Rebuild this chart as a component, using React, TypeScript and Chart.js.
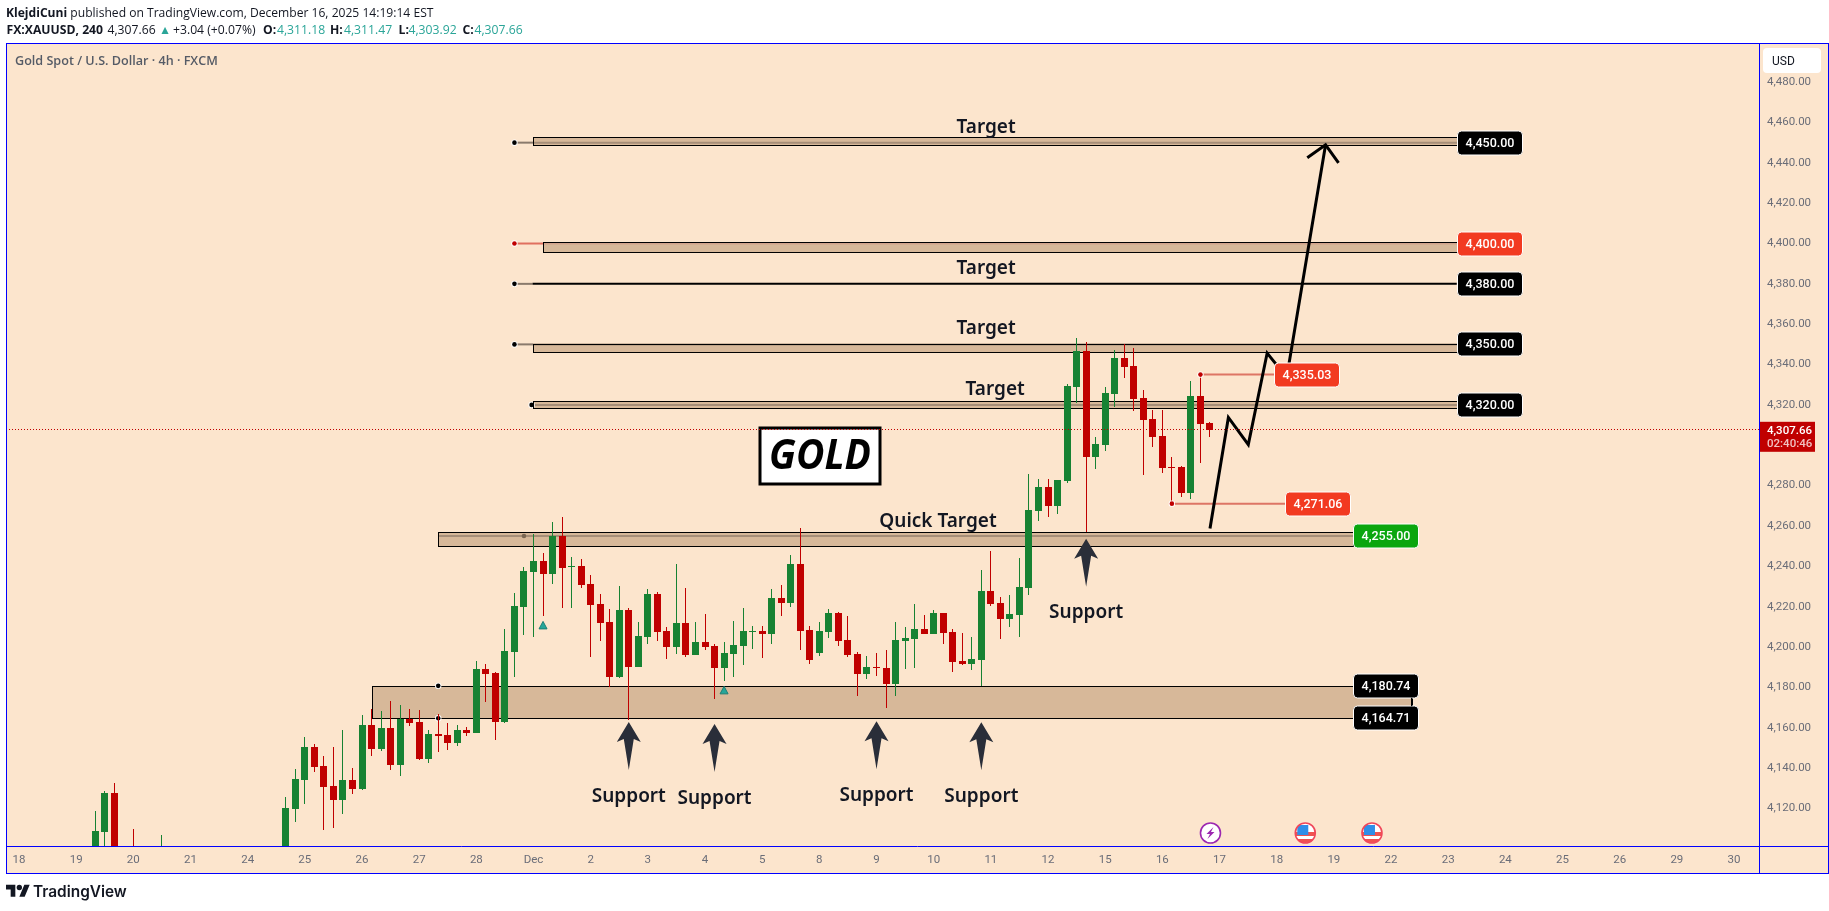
import { Chart } from 'chart.js/auto';
import { useEffect, useRef } from 'react';

const dayLabels = ['18', '19', '20', '21', '24', '25', '26', '27', '28', 'Dec', '2', '3', '4', '5', '8', '9', '10', '11', '12', '15', '16', '17', '18', '19', '22', '23', '24', '25', '26', '29', '30'];
const barsPerDay = 6;
const priceTicks = [4480, 4460, 4440, 4420, 4400, 4380, 4360, 4340, 4320, 4300, 4280, 4260, 4240, 4220, 4200, 4180, 4160, 4140, 4120];

// first candle sits at bar 8, bars hidden under the bottom of the pane are null
const firstBar = 8;
const opens = [
    4095, 4108.2, 4127.5, null, 4098, null, null, 4095, null, null,
    null, null, null, null, null, null, null, null, null, null,
    4095, 4119.6, 4133.9, 4150.3, 4140.9, 4131.0, 4124.1, 4133.9, 4129.5, 4161.2,
    4149.3, 4159.7, 4141.4, 4164.2, 4162.7, 4144.4, 4156.7, 4156.2, 4152.3, 4158.7,
    4157.2, 4189.0, 4187.0, 4162.7, 4197.4, 4219.7, 4237.0, 4242.5, 4236.0, 4254.9,
    4239.5, 4240.0, 4231.1, 4221.2, 4212.2, 4185.0, 4218.2, 4189.9, 4204.8, 4226.1,
    4207.8, 4199.9, 4211.7, 4195.9, 4202.3, 4200.4, 4189.4, 4196.4, 4200.4, 4207.3,
    4207.8, 4206.3, 4224.1, 4221.6, 4241.0, 4208.3, 4196.9, 4207.3, 4216.7, 4203.3,
    4196.4, 4186.5, 4189.9, 4189.4, 4181.5, 4202.8, 4203.8, 4208.8, 4206.3, 4216.7,
    4207.3, 4192.9, 4191.4, 4193.4, 4227.6, 4221.7, 4213.7, 4215.7, 4229.1, 4267.3,
    4279.1, 4269.7, 4282.1, 4328.7, 4346.5, 4294.0, 4300.0, 4325.2, 4343.1, 4339.1,
    4323.2, 4312.8, 4304.4, 4289.1, 4289.1, 4276.2, 4324.2, 4311.18
];
const closes = [
    4108.7, 4127.5, 4095, null, 4095, null, null, 4098, null, null,
    null, null, null, null, null, null, null, null, null, null,
    4120.1, 4134.4, 4150.3, 4140.4, 4130.5, 4124.1, 4133.9, 4129.5, 4161.2, 4149.3,
    4159.7, 4141.4, 4164.2, 4162.2, 4144.4, 4156.7, 4155.7, 4152.3, 4158.7, 4157.2,
    4188.95, 4186.5, 4162.7, 4197.9, 4220.2, 4237.5, 4242.5, 4236.0, 4254.9, 4239.0,
    4240.0, 4230.6, 4220.7, 4211.7, 4185.0, 4218.2, 4189.9, 4205.3, 4226.1, 4207.3,
    4199.9, 4211.7, 4195.9, 4202.3, 4199.9, 4189.4, 4196.9, 4200.8, 4207.8, 4207.8,
    4206.3, 4224.1, 4221.6, 4241.0, 4207.8, 4193.4, 4207.8, 4216.7, 4202.8, 4195.9,
    4186.5, 4189.9, 4189.4, 4181.5, 4203.3, 4204.3, 4208.8, 4206.3, 4216.7, 4206.8,
    4192.4, 4191.4, 4193.9, 4227.6, 4221.2, 4213.7, 4216.2, 4229.6, 4267.7, 4279.1,
    4269.7, 4282.6, 4329.2, 4346.5, 4294.0, 4300.5, 4325.7, 4343.1, 4338.6, 4322.8,
    4312.3, 4303.9, 4288.6, 4288.6, 4276.2, 4324.2, 4310.4, 4307.66
];
const highs = [
    4118.6, 4128.5, 4132.5, null, 4109.7, null, null, 4106.7, null, null,
    null, null, null, null, null, null, null, null, null, null,
    4125.5, 4139.4, 4155.3, 4151.8, 4145.8, 4150.3, 4158.7, 4139.9, 4166.2, 4169.1,
    4168.1, 4173.1, 4171.1, 4169.1, 4168.6, 4158.7, 4166.7, 4162.2, 4161.2, 4160.2,
    4192.9, 4191.4, 4187.5, 4208.8, 4226.6, 4239.5, 4255.9, 4246.4, 4261.8, 4264.3,
    4244.5, 4243.5, 4235.5, 4226.1, 4218.7, 4230.1, 4219.2, 4212.2, 4228.6, 4227.1,
    4209.8, 4241.0, 4229.1, 4212.2, 4216.2, 4201.3, 4202.3, 4212.7, 4219.2, 4210.3,
    4210.3, 4228.6, 4230.6, 4245.4, 4258.8, 4210.3, 4212.2, 4218.7, 4217.2, 4215.2,
    4197.4, 4195.4, 4196.9, 4198.4, 4212.2, 4209.8, 4221.2, 4215.7, 4218.2, 4216.7,
    4208.8, 4206.8, 4204.8, 4238.0, 4247.4, 4224.6, 4225.6, 4244.0, 4285.6, 4283.1,
    4283.1, 4282.6, 4330.2, 4353.0, 4351.0, 4303.9, 4328.7, 4347.0, 4350.0, 4348.0,
    4327.2, 4317.3, 4317.3, 4294.0, 4289.6, 4331.7, 4335.03, 4311.47
];
const lows = [
    4090, 4095, 4090, null, 4090, null, null, 4090, null, null,
    null, null, null, null, null, null, null, null, null, null,
    4092, 4113.1, 4122.1, 4137.9, 4109.2, 4110.2, 4117.1, 4127.0, 4129.0, 4145.8,
    4148.3, 4138.9, 4135.9, 4160.7, 4143.9, 4142.4, 4147.8, 4148.8, 4150.8, 4155.7,
    4157.2, 4172.6, 4153.8, 4162.2, 4185.0, 4205.8, 4204.8, 4215.2, 4231.1, 4219.2,
    4219.2, 4229.1, 4194.9, 4202.8, 4180.0, 4184.5, 4163.7, 4189.9, 4201.3, 4202.8,
    4193.9, 4196.4, 4194.9, 4195.9, 4198.4, 4174.1, 4183.0, 4185.0, 4190.9, 4198.9,
    4194.4, 4201.3, 4215.2, 4219.7, 4198.4, 4191.4, 4195.4, 4204.3, 4200.4, 4194.9,
    4175.6, 4184.0, 4185.5, 4169.6, 4175.6, 4188.95, 4189.4, 4206.3, 4206.3, 4201.3,
    4187.5, 4190.9, 4188.5, 4180.9, 4220.2, 4203.8, 4209.8, 4204.8, 4225.6, 4262.3,
    4264.3, 4265.8, 4281.1, 4320.8, 4256.8, 4288.1, 4297.0, 4318.8, 4333.2, 4316.8,
    4285.1, 4299.0, 4286.1, 4270.7, 4274.2, 4273.2, 4291.0, 4303.92
];

// drawn levels: [left bar, right bar, top price, bottom price, level price, anchor bar]
const zones = [
    [37.1, 146.2, 4180.74, 4164.71, null, null],
    [44, 140, 4257.2, 4250, 4255, 53],
    [53.9, 150.9, 4452.9, 4448.9, 4450, 52],
    [55, 150.9, 4400.9, 4395.8, 4400, 52],
    [53.9, 150.9, 4350.3, 4346.4, 4350, 52],
    [53.9, 150.9, 4322.1, 4318.6, 4320, 53.8]
];
const blackLineLevel = [53.9, 150.9, 4380, 52];

const tagBars = [150.9, 150.9, 150.9, 150.9, 150.9, 131.75, 132.9, 140, 140, 140];
const tagPrices = [4450, 4400, 4380, 4350, 4320, 4335.03, 4271.06, 4255, 4180.74, 4164.71];
const tagColors = ['#000000', '#f23a21', '#000000', '#000000', '#000000', '#f23a21', '#f23a21', '#0aa60e', '#000000', '#000000'];

const noteTexts = ['Target', 'Target', 'Target', 'Target', 'Quick Target', 'Support', 'Support', 'Support', 'Support', 'Support'];
const noteBars = [101.5, 101.5, 101.5, 102.45, 96.45, 64, 73, 90, 101, 112];
const notePrices = [4457.5, 4387.5, 4357.8, 4327.7, 4262.4, 4125.9, 4124.9, 4126.2, 4125.7, 4217];

const supportArrowBars = [64, 73, 90, 101, 112];
const supportArrowPrices = [4162.8, 4161.8, 4163.2, 4162.7, 4253.7];

const pathBars = [125, 126.93, 129.02, 131, 133.05, 137.13];
const pathPrices = [4258.7, 4313.8, 4300.3, 4345.7, 4333.6, 4448.95];
const headBars = [135.21, 137.13, 138.49];
const headPrices = [4442.5, 4448.95, 4440];

const triangleBars = [55, 74];
const trianglePrices = [4210.7, 4178.5];
const flagBars = [135, 142];
const boltBar = 125.05;

const lastPrice = 4307.66;
const redAnchors = [[124, 131.75, 4335.03], [121, 132.9, 4271.06]];
const goldBar = 84.07;
const goldPrice = 4294.9;

const PANE = '#fce5cd';
const UP = '#178233';
const DOWN = '#c00000';
const ZONE = '#d7b899';
const fmt = (v: number) => v.toLocaleString('en-US', { minimumFractionDigits: 2, maximumFractionDigits: 2 });
const crisp = (v: number) => Math.round(v - 0.5) + 0.5;

const validBars = opens.map((o, i) => ({ i, o })).filter(d => d.o !== null).map(d => d.i);

function drawDot(ctx: any, x: number, y: number, color: string, ring = true) {
    if (ring) {
        ctx.beginPath();
        ctx.arc(x, y, 3.2, 0, Math.PI * 2);
        ctx.fillStyle = '#ffffff';
        ctx.fill();
    }
    ctx.beginPath();
    ctx.arc(x, y, 2.3, 0, Math.PI * 2);
    ctx.fillStyle = color;
    ctx.fill();
}

function drawHLine(ctx: any, x1: number, x2: number, y: number, color: string, width: number) {
    ctx.strokeStyle = color;
    ctx.lineWidth = width;
    ctx.setLineDash([]);
    ctx.beginPath();
    ctx.moveTo(x1, y);
    ctx.lineTo(x2, y);
    ctx.stroke();
}

function drawTag(ctx: any, x: number, y: number, text: string, color: string) {
    ctx.beginPath();
    ctx.roundRect(x + 0.5, y - 12, 65, 24, 4);
    ctx.fillStyle = color;
    ctx.fill();
    ctx.strokeStyle = '#ffffff';
    ctx.lineWidth = 1;
    ctx.stroke();
    ctx.fillStyle = '#ffffff';
    ctx.font = '500 12.5px Roboto';
    ctx.textAlign = 'center';
    ctx.textBaseline = 'middle';
    ctx.fillText(text, x + 33, y + 0.5);
}

function drawFlag(ctx: any, cx: number, cy: number) {
    ctx.save();
    ctx.beginPath();
    ctx.arc(cx, cy, 10, 0, Math.PI * 2);
    ctx.fillStyle = '#ffffff';
    ctx.fill();
    ctx.clip();
    ctx.fillStyle = '#ef5350';
    ctx.fillRect(cx - 11, cy - 1, 22, 4);
    ctx.fillRect(cx - 11, cy + 6, 22, 5);
    ctx.fillStyle = '#2f8ee8';
    ctx.fillRect(cx - 8, cy - 8, 11, 10);
    ctx.restore();
    ctx.beginPath();
    ctx.arc(cx, cy, 10, 0, Math.PI * 2);
    ctx.strokeStyle = '#f0475a';
    ctx.lineWidth = 1.6;
    ctx.stroke();
}

function drawBolt(ctx: any, cx: number, cy: number) {
    ctx.beginPath();
    ctx.arc(cx, cy, 10, 0, Math.PI * 2);
    ctx.fillStyle = '#ffffff';
    ctx.fill();
    ctx.strokeStyle = '#9c27b0';
    ctx.lineWidth = 1.6;
    ctx.stroke();
    ctx.fillStyle = '#9c27b0';
    ctx.beginPath();
    ctx.moveTo(cx + 3, cy - 6);
    ctx.lineTo(cx - 4, cy + 1);
    ctx.lineTo(cx - 0.5, cy + 1);
    ctx.lineTo(cx - 3, cy + 6);
    ctx.lineTo(cx + 4, cy - 1);
    ctx.lineTo(cx + 0.5, cy - 1);
    ctx.closePath();
    ctx.fill();
}

const overlayPlugin = {
    id: 'overlay',
    // snap candles to whole pixels the way the original renders them
    afterDatasetsUpdate(chart: any) {
        chart.data.datasets.forEach((ds: any, i: number) => {
            if (ds.type !== 'bar') return;
            chart.getDatasetMeta(i).data.forEach((el: any) => {
                el.x = crisp(el.x);
                el.y = Math.round(el.y);
                el.base = Math.round(el.base);
                if (Math.abs(el.y - el.base) < 1) el.base = el.y + 1;
            });
        });
    },
    beforeDraw(chart: any) {
        const { ctx, chartArea, width } = chart;
        ctx.save();
        ctx.fillStyle = '#ffffff';
        ctx.fillRect(0, 0, width, chart.height);
        ctx.fillStyle = PANE;
        ctx.fillRect(chartArea.left, chartArea.top, width - chartArea.left - 1, 830);
        ctx.restore();
    },
    beforeDatasetsDraw(chart: any) {
        const { ctx, scales: { x, y } } = chart;
        ctx.save();
        zones.forEach(([left, right, top, bottom, level, anchor]) => {
            const x1 = Math.round(x.getPixelForValue(left as number));
            const x2 = Math.round(x.getPixelForValue(right as number));
            const y1 = Math.round(y.getPixelForValue(top as number));
            const y2 = Math.round(y.getPixelForValue(bottom as number));
            const red = level === 4400;
            if (level !== null && anchor !== null && x.getPixelForValue(anchor) < x1) {
                drawHLine(ctx, x.getPixelForValue(anchor), x1, y.getPixelForValue(level), red ? '#e0705f' : '#8a7a6c', 2);
            }
            ctx.fillStyle = ZONE;
            ctx.fillRect(x1, y1, x2 - x1, y2 - y1);
            if (level !== null) {
                const ly = y.getPixelForValue(level);
                drawHLine(ctx, x1, x2, ly, red ? '#d2a38c' : '#a68e78', 2);
                if (anchor !== null) {
                    const dim = level === 4255;
                    drawDot(ctx, x.getPixelForValue(anchor), ly, red ? '#c00000' : dim ? '#7a6652' : '#000000', !dim);
                }
            }
            ctx.strokeStyle = '#000000';
            ctx.lineWidth = 1;
            ctx.strokeRect(x1 + 0.5, y1 + 0.5, x2 - x1, y2 - y1);
        });
        const [bl, br, bp, ba] = blackLineLevel;
        const by = y.getPixelForValue(bp);
        drawHLine(ctx, x.getPixelForValue(ba), x.getPixelForValue(bl), by, '#8a7a6c', 2);
        drawHLine(ctx, x.getPixelForValue(bl), x.getPixelForValue(br), by, '#000000', 2);
        drawDot(ctx, x.getPixelForValue(ba), by, '#000000');
        [4180.74, 4164.71].forEach(p => drawDot(ctx, x.getPixelForValue(44), y.getPixelForValue(p), '#000000'));
        redAnchors.forEach(([from, to, p]) => {
            const py = y.getPixelForValue(p);
            drawHLine(ctx, x.getPixelForValue(from), x.getPixelForValue(to), py, '#dd7565', 2);
        });
        ctx.restore();
    },
    afterDatasetsDraw(chart: any) {
        const { ctx, scales: { x, y }, chartArea } = chart;
        ctx.save();
        redAnchors.forEach(([from, , p]) => drawDot(ctx, x.getPixelForValue(from), y.getPixelForValue(p), '#c00000'));

        triangleBars.forEach((b, i) => {
            const cx = x.getPixelForValue(b);
            const cy = y.getPixelForValue(trianglePrices[i]);
            ctx.beginPath();
            ctx.moveTo(cx, cy - 4);
            ctx.lineTo(cx + 4, cy + 3.5);
            ctx.lineTo(cx - 4, cy + 3.5);
            ctx.closePath();
            ctx.fillStyle = '#26a69a';
            ctx.fill();
            ctx.strokeStyle = '#1b7f76';
            ctx.lineWidth = 1;
            ctx.stroke();
        });

        supportArrowBars.forEach((b, i) => {
            const cx = x.getPixelForValue(b);
            const tip = y.getPixelForValue(supportArrowPrices[i]);
            ctx.beginPath();
            ctx.moveTo(cx, tip);
            ctx.lineTo(cx + 12, tip + 20);
            ctx.lineTo(cx + 5, tip + 17);
            ctx.lineTo(cx, tip + 48);
            ctx.lineTo(cx - 5, tip + 17);
            ctx.lineTo(cx - 12, tip + 20);
            ctx.closePath();
            ctx.fillStyle = '#2a2e39';
            ctx.fill();
        });

        ctx.fillStyle = '#131722';
        ctx.font = '600 19px "Noto Sans"';
        ctx.textAlign = 'center';
        ctx.textBaseline = 'middle';
        noteTexts.forEach((t, i) => {
            ctx.fillText(t, x.getPixelForValue(noteBars[i]), y.getPixelForValue(notePrices[i]));
        });

        tagPrices.forEach((p, i) => {
            drawTag(ctx, Math.round(x.getPixelForValue(tagBars[i])), Math.round(y.getPixelForValue(p)), fmt(p), tagColors[i]);
        });
        ctx.strokeStyle = '#000000';
        ctx.lineWidth = 1;
        ctx.beginPath();
        const capX = crisp(x.getPixelForValue(146.2));
        ctx.moveTo(capX, y.getPixelForValue(4180.74) + 12);
        ctx.lineTo(capX, y.getPixelForValue(4164.71) - 12);
        ctx.stroke();

        // GOLD box
        const gx = Math.round(x.getPixelForValue(goldBar));
        const gy = Math.round(y.getPixelForValue(goldPrice));
        ctx.fillStyle = '#ffffff';
        ctx.fillRect(gx - 60, gy - 28, 120, 56);
        ctx.strokeStyle = '#000000';
        ctx.lineWidth = 3;
        ctx.strokeRect(gx - 60, gy - 28, 120, 56);
        ctx.fillStyle = '#000000';
        ctx.font = 'italic 700 41px "Open Sans"';
        ctx.textAlign = 'center';
        ctx.textBaseline = 'middle';
        ctx.fillText('GOLD', gx, gy + 1, 102);

        // last price line
        const ly = crisp(y.getPixelForValue(lastPrice));
        ctx.strokeStyle = DOWN;
        ctx.lineWidth = 1;
        ctx.setLineDash([1, 2]);
        ctx.beginPath();
        ctx.moveTo(chartArea.left, ly);
        ctx.lineTo(chartArea.right, ly);
        ctx.stroke();
        ctx.setLineDash([]);

        drawBolt(ctx, x.getPixelForValue(boltBar), chartArea.bottom - 13);
        flagBars.forEach(b => drawFlag(ctx, x.getPixelForValue(b), chartArea.bottom - 13));

        ctx.fillStyle = '#555b66';
        ctx.font = '600 12.6px "Open Sans"';
        ctx.textAlign = 'left';
        ctx.textBaseline = 'middle';
        ctx.fillText('Gold Spot / U.S. Dollar · 4h · FXCM', 15, 61);
        ctx.restore();
    },
    afterDraw(chart: any) {
        const { ctx, scales: { y }, chartArea, width } = chart;
        ctx.save();
        const ly = y.getPixelForValue(lastPrice);
        ctx.fillStyle = DOWN;
        ctx.fillRect(chartArea.right, ly - 8, 56, 30);
        ctx.textAlign = 'left';
        ctx.textBaseline = 'middle';
        ctx.font = '500 11.5px Roboto';
        ctx.fillStyle = '#ffffff';
        ctx.fillText(fmt(lastPrice), chartArea.right + 8, ly + 1);
        ctx.fillStyle = '#f0c0c0';
        ctx.fillText('02:40:46', chartArea.right + 8, ly + 14);

        ctx.beginPath();
        ctx.roundRect(chartArea.right + 4, 48, 58, 25, 4);
        ctx.fillStyle = '#ffffff';
        ctx.fill();
        ctx.fillStyle = '#131722';
        ctx.font = '12px Roboto';
        ctx.fillText('USD', chartArea.right + 13, 62);

        ctx.strokeStyle = '#0000ff';
        ctx.lineWidth = 1;
        ctx.strokeRect(chartArea.left + 0.5, chartArea.top - 0.5, width - chartArea.left - 1, 830);
        ctx.beginPath();
        ctx.moveTo(chartArea.left, chartArea.bottom + 0.5);
        ctx.lineTo(width, chartArea.bottom + 0.5);
        ctx.moveTo(chartArea.right + 0.5, chartArea.top);
        ctx.lineTo(chartArea.right + 0.5, chartArea.top + 830);
        ctx.stroke();
        ctx.restore();
    }
};

function GoldChart() {
    const canvasRef = useRef<HTMLCanvasElement>(null);

    useEffect(() => {
        if (!canvasRef.current) return;

        const chart = new Chart(canvasRef.current, {
            type: 'bar',
            data: {
                datasets: [
                    {
                        type: 'line',
                        data: pathBars.map((b, i) => ({ x: b, y: pathPrices[i] })),
                        borderColor: '#000000',
                        borderWidth: 3,
                        pointRadius: 0,
                        order: 0
                    },
                    {
                        type: 'line',
                        data: headBars.map((b, i) => ({ x: b, y: headPrices[i] })),
                        borderColor: '#000000',
                        borderWidth: 3,
                        pointRadius: 0,
                        order: 0
                    },
                    {
                        type: 'bar',
                        data: validBars.map(i => ({ x: firstBar + i, y: [opens[i], closes[i]] })),
                        backgroundColor: validBars.map(i => (closes[i] >= opens[i] ? UP : DOWN)),
                        barThickness: 7,
                        grouped: false,
                        inflateAmount: 0,
                        order: 1
                    },
                    {
                        type: 'bar',
                        data: validBars.map(i => ({ x: firstBar + i, y: [lows[i], highs[i]] })),
                        backgroundColor: validBars.map(i => (closes[i] >= opens[i] ? UP : DOWN)),
                        barThickness: 1,
                        grouped: false,
                        inflateAmount: 0,
                        order: 2
                    }
                ]
            },
            plugins: [overlayPlugin],
            options: {
                animation: false,
                responsive: false,
                maintainAspectRatio: false,
                events: [],
                layout: { autoPadding: false, padding: { left: 6, top: 44, right: 0, bottom: 37 } },
                plugins: { legend: { display: false }, tooltip: { enabled: false }, title: { display: false } },
                scales: {
                    x: {
                        type: 'linear',
                        offset: false,
                        min: -1.364,
                        max: 182.62,
                        grid: { display: false, drawTicks: false },
                        border: { display: false },
                        afterBuildTicks: (scale: any) => {
                            scale.ticks = dayLabels.map((_, i) => ({ value: i * barsPerDay }));
                        },
                        afterFit: (scale: any) => { scale.height = 28; },
                        ticks: {
                            autoSkip: false,
                            maxRotation: 0,
                            padding: 7,
                            color: '#6a6d78',
                            font: { family: 'Roboto', size: 11.5 },
                            callback: (_: any, i: number) => dayLabels[i]
                        }
                    },
                    y: {
                        position: 'right',
                        min: 4101.35,
                        max: 4498.9,
                        beginAtZero: false,
                        grid: { display: false, drawTicks: false },
                        border: { display: false },
                        afterBuildTicks: (scale: any) => {
                            scale.ticks = priceTicks.map(v => ({ value: v }));
                        },
                        afterFit: (scale: any) => { scale.width = 70; },
                        ticks: {
                            autoSkip: false,
                            padding: 8,
                            color: '#6a6d78',
                            font: { family: 'Roboto', size: 11.5 },
                            callback: (v: any) => fmt(Number(v))
                        }
                    }
                }
            }
        });

        return () => chart.destroy();
    }, []);

    return <canvas ref={canvasRef} width={1829} height={911} style={{ position: 'absolute', left: 0, top: 0, width: 1829, height: 911 }} />;
}

const TEAL = '#2aa598';
// second header line: text, left, bold, colour
const headerTexts = ['FX:XAUUSD, 240', '4,307.66', '▲', '+3.04 (+0.07%)', 'O:', '4,311.18', 'H:', '4,311.47', 'L:', '4,303.92', 'C:', '4,307.66'];
const headerLefts = [6.5, 107.5, 159, 173, 263, 277, 330, 344, 398.5, 408.5, 462.5, 474.5];
const headerFont = { fontFamily: '"Open Sans"', fontSize: 12.2, color: '#131722', whiteSpace: 'pre' as const, position: 'absolute' as const };

export default function App() {
    return (
        <div style={{ position: 'fixed', left: 0, top: 0, width: 1829, height: 911, background: '#fff', overflow: 'hidden' }}>
            <GoldChart />
            <div style={{ ...headerFont, left: 6, top: 4, fontSize: 12.1 }}>
                <b>KlejdiCuni</b> published on TradingView.com, December 16, 2025 14:19:14 EST
            </div>
            {headerTexts.map((t, i) => {
                const bold = i === 0 || (i >= 4 && i % 2 === 0);
                const teal = i === 2 || (i >= 5 && i % 2 === 1);
                return <div key={i} style={{ ...headerFont, left: headerLefts[i], top: 21, fontWeight: bold ? 700 : 400, color: teal ? TEAL : '#131722' }}>{t}</div>;
            })}
            <svg viewBox="0 0 36 28" width="24" height="19" style={{ position: 'absolute', left: 6, top: 882 }}>
                <path d="M14 22H7V11H0V4h14v18Z M28 22h-8l7.5-18h8L28 22Z" fill="#131722" />
                <circle cx="20" cy="8" r="4" fill="#131722" />
            </svg>
            <div style={{ position: 'absolute', left: 33, top: 882, fontFamily: 'Inter', fontWeight: 600, fontSize: 15.4, color: '#131722' }}>TradingView</div>
        </div>
    );
}
